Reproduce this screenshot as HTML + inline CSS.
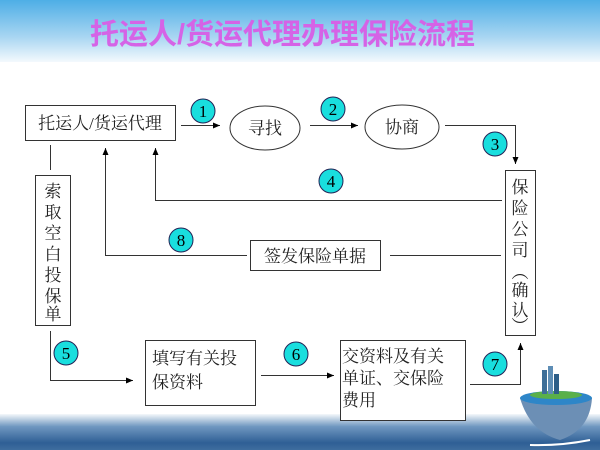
<!DOCTYPE html>
<html><head><meta charset="utf-8"><style>
body{margin:0;width:600px;height:450px;overflow:hidden;position:relative;background:#fff;font-family:"Liberation Serif","Noto Serif CJK SC",serif;}
.top{position:absolute;left:0;top:0;width:600px;height:62px;background:linear-gradient(#4eaee6,#a9d6f2 60%,#f4f9fd);}
.bot{position:absolute;left:0;top:414px;width:600px;height:36px;background:linear-gradient(#f4f8fb,#6f97c0 35%,#2f5f95 80%,#3e6d9e);}
.title{position:absolute;left:90px;top:11px;white-space:nowrap;font:bold 29px "Liberation Sans","Noto Sans CJK SC",sans-serif;color:#d563e6;}
</style></head><body>
<div class="top"></div><div class="bot"></div>
<div class="title">托运人/货运代理办理保险流程</div>
<svg width="600" height="450" style="position:absolute;left:0;top:0" font-family="Liberation Serif, Noto Serif CJK SC, serif">
<defs><marker id="a" markerWidth="8" markerHeight="8" refX="7" refY="4" orient="auto" markerUnits="userSpaceOnUse"><path d="M0,1 L7,4 L0,7z" fill="#000"/></marker></defs>
<g fill="none" stroke="#333" stroke-width="1">
<rect x="25.5" y="105.5" width="150" height="35" fill="#fff"/>
<ellipse cx="265" cy="128" rx="35" ry="22" fill="#fff"/>
<ellipse cx="402" cy="127" rx="37" ry="22" fill="#fff"/>
<rect x="505.5" y="170.5" width="30" height="165" fill="#fff"/>
<rect x="35.5" y="175.5" width="35" height="150" fill="#fff"/>
<rect x="250.5" y="240.5" width="130" height="30" fill="#fff"/>
<rect x="145.5" y="340.5" width="110" height="65" fill="#fff"/>
<rect x="340.5" y="340.5" width="125" height="80" fill="#fff"/>
<path d="M181,125.5H220" marker-end="url(#a)"/>
<path d="M310,125.5H358" marker-end="url(#a)"/>
<path d="M445,125.5H515.5V164" marker-end="url(#a)"/>
<path d="M502,200.5H155.5V148" marker-end="url(#a)"/>
<path d="M247,255.5H105.5V148" marker-end="url(#a)"/>
<path d="M390,255.5H501"/>
<path d="M50.5,145V170"/>
<path d="M50.5,331V380.5H133" marker-end="url(#a)"/>
<path d="M261,375.5H334" marker-end="url(#a)"/>
<path d="M470,384.5H520.5V343" marker-end="url(#a)"/>
</g>
<g fill="#19dede" stroke="#225" stroke-width="1">
<circle cx="203" cy="111" r="12"/><circle cx="333" cy="109" r="12"/><circle cx="495" cy="144" r="12"/>
<circle cx="331" cy="181" r="12"/><circle cx="66" cy="353" r="12"/><circle cx="181" cy="240" r="12"/>
<circle cx="296" cy="354" r="12"/><circle cx="495" cy="364" r="12"/>
</g>
<g font-size="17" text-anchor="middle" fill="#000">
<text x="203" y="117">1</text><text x="333" y="115">2</text><text x="495" y="150">3</text>
<text x="331" y="187">4</text><text x="66" y="359">5</text><text x="181" y="246">8</text>
<text x="296" y="360">6</text><text x="495" y="370">7</text>
</g>
<g font-size="17" fill="#222">
<text x="100" y="129" text-anchor="middle">托运人/货运代理</text>
<text x="265" y="134" text-anchor="middle">寻找</text>
<text x="402" y="133" text-anchor="middle">协商</text>
<text x="315" y="262" text-anchor="middle">签发保险单据</text>
<text x="152" y="364">填写有关投</text><text x="152" y="388">保资料</text>
<text x="342" y="362">交资料及有关</text><text x="342" y="384">单证、交保险</text><text x="342" y="406">费用</text>
<g text-anchor="middle">
<text x="53" y="197">索</text><text x="53" y="218">取</text><text x="53" y="239">空</text><text x="53" y="260">白</text><text x="53" y="281">投</text><text x="53" y="302">保</text><text x="53" y="320">单</text>
<text x="520" y="193">保</text><text x="520" y="214">险</text><text x="520" y="235">公</text><text x="520" y="256">司</text>
<text x="520" y="278">︵</text><text x="520" y="296">确</text><text x="520" y="316">认</text><text x="520" y="332">︶</text>
</g></g>
<g>
<path d="M520,398 Q555,392 592,398 Q590,430 560,440 Q530,432 520,398z" fill="#6c8fb5"/>
<ellipse cx="556" cy="398" rx="36" ry="7" fill="#2e86c8"/>
<ellipse cx="556" cy="395" rx="26" ry="4" fill="#5ab04a"/>
<rect x="542" y="370" width="5" height="24" fill="#3d6e98"/><rect x="548" y="366" width="5" height="28" fill="#5d8db5"/><rect x="554" y="374" width="5" height="20" fill="#2d5e88"/>
<path d="M530,445 Q560,446 590,440" stroke="#fff" stroke-width="2" fill="none"/>
</g>
</svg>
</body></html>
